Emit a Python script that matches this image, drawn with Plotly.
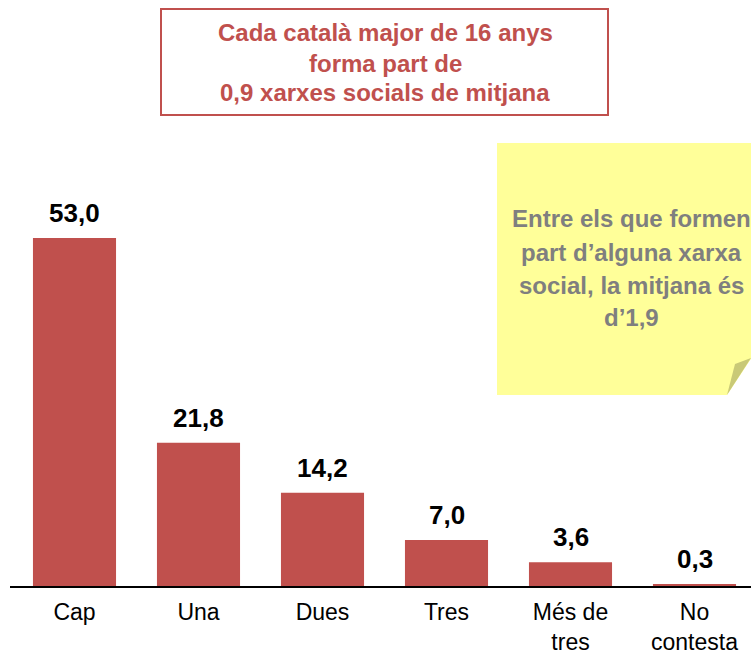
import plotly.graph_objects as go

categories = ["Cap", "Una", "Dues", "Tres", "Més de<br>tres", "No<br>contesta"]
values = [53.0, 21.8, 14.2, 7.0, 3.6, 0.3]
value_labels = ["53,0", "21,8", "14,2", "7,0", "3,6", "0,3"]
title_lines = ["Cada català major de 16 anys", "forma part de", "0,9 xarxes socials de mitjana"]
note_lines = ["Entre els que formen", "part d\u2019alguna xarxa", "social, la mitjana és", "d\u20191,9"]

W, H = 751, 653
ML, MR = 10, 0
MT = 130
MB = H - 586
PW = W - ML - MR
PH = H - MT - MB
STEP = 124.0  # px per category
X0 = -(74.5 - ML) / STEP

def px(x):
    return (x - ML) / PW

def py(y):
    return (H - MB - y) / PH

RED = "#c0504d"
FONT = "Liberation Sans, Arial, sans-serif"

fig = go.Figure()
fig.add_trace(go.Bar(
    x=list(range(len(categories))), y=values,
    marker=dict(color=RED, line=dict(width=0)),
    width=0.67, hoverinfo="skip",
))

annotations = []
for i, (v, lab) in enumerate(zip(values, value_labels)):
    annotations.append(dict(
        x=i, y=v, xref="x", yref="y", text=f"<b>{lab}</b>", showarrow=False,
        yanchor="middle", yshift=25,
        font=dict(family=FONT, size=26, color="black"),
    ))

title_y = [33, 63, 92]
for t, yy in zip(title_lines, title_y):
    annotations.append(dict(
        x=px(385), y=py(yy), xref="paper", yref="paper", text=f"<b>{t}</b>",
        showarrow=False, xanchor="center", yanchor="middle",
        font=dict(family=FONT, size=24, color=RED),
    ))

note_y = [218, 252, 285, 317]
for t, yy in zip(note_lines, note_y):
    annotations.append(dict(
        x=px(631), y=py(yy), xref="paper", yref="paper", text=f"<b>{t}</b>",
        showarrow=False, xanchor="center", yanchor="middle",
        font=dict(family=FONT, size=24, color="#7f7f7f"),
    ))

def path(points):
    return "M " + " L ".join(f"{px(x)},{py(y)}" for x, y in points) + " Z"

shapes = [
    dict(type="rect", xref="paper", yref="paper",
         x0=px(161), x1=px(608), y0=py(9), y1=py(115),
         line=dict(color=RED, width=2), fillcolor="rgba(0,0,0,0)", layer="above"),
    dict(type="path", xref="paper", yref="paper",
         path=path([(497, 143), (760, 143), (760, 345), (727, 395), (497, 395)]),
         fillcolor="#ffff99", line=dict(width=0), layer="below"),
    dict(type="path", xref="paper", yref="paper",
         path=path([(735, 364), (751, 358), (727, 395)]),
         fillcolor="#c9c977", line=dict(width=0), layer="above"),
]

fig.update_layout(
    width=W, height=H,
    margin=dict(l=ML, r=MR, t=MT, b=MB, autoexpand=False),
    paper_bgcolor="white", plot_bgcolor="white",
    showlegend=False,
    annotations=annotations,
    shapes=shapes,
    xaxis=dict(
        tickmode="array", tickvals=list(range(len(categories))), ticktext=categories,
        range=[X0, X0 + PW / STEP],
        showgrid=False, zeroline=False, automargin=False,
        showline=True, linecolor="black", linewidth=2,
        ticks="", ticklabelstandoff=4,
        tickfont=dict(family=FONT, size=23, color="black"),
    ),
    yaxis=dict(
        range=[0, PH / 6.566], visible=False, showgrid=False, zeroline=False,
        automargin=False,
    ),
)

fig.write_html(
    "out.html",
    config={"displayModeBar": False},
    post_script=(
        "document.documentElement.style.margin='0';"
        "document.documentElement.style.overflow='hidden';"
        "document.body.style.margin='0';"
        "document.body.style.overflow='hidden';"
    ),
)
